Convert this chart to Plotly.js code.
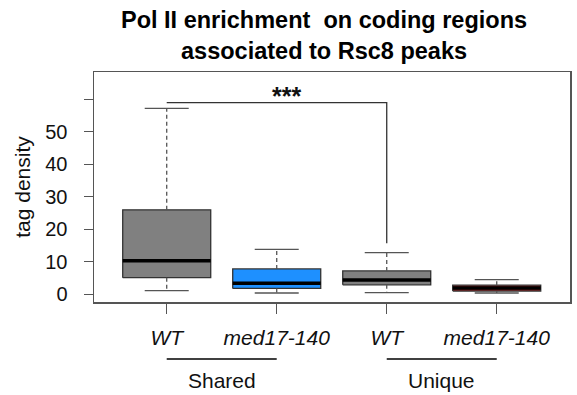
<!DOCTYPE html>
<html>
<head>
<meta charset="utf-8">
<script src="https://cdn.plot.ly/plotly-3.0.1.min.js"></script>
<style>html,body{margin:0;padding:0;background:#fff;}#chart{width:577px;height:395px;}</style>
</head>
<body>
<div id="chart"></div>
<script>
// ---- data ----
const positions = [1, 2, 3, 4];
const strains = ['WT', 'med17-140', 'WT', 'med17-140'];
const groupNames = ['Shared', 'Unique'];
const groupSpans = [[1, 2], [3, 4]];
const upperWhisker = [57.2, 13.8, 12.8, 4.5];
const q3 = [26.0, 7.8, 7.2, 2.8];
const medians = [10.3, 3.4, 4.4, 1.9];
const q1 = [5.1, 1.8, 2.9, 1.0];
const lowerWhisker = [1.1, 0.4, 0.5, 0.4];
const boxColors = ['#808080', '#1E90FF', '#808080', '#8B1A1A'];
const yTickVals = [0, 10, 20, 30, 40, 50, 60];
const yTickText = ['0', '10', '20', '30', '40', '50', ''];
const sigPair = [1, 3];
const sigLevel = 59;
const sigDropTo = 15.7;
const sigLabel = '***';
const titleLines = ['Pol II enrichment\u00A0 on coding regions', 'associated to Rsc8 peaks'];

// ---- style ----
const BOX_W = 0.8, CAP_W = 0.4;
const FONT = 'Liberation Sans, Arial, Helvetica, sans-serif';

const traces = [];
positions.forEach((p, i) => {
  const a = p - BOX_W / 2, b = p + BOX_W / 2;
  traces.push({
    type: 'scatter', mode: 'lines', x: [a, b, b, a, a], y: [q1[i], q1[i], q3[i], q3[i], q1[i]],
    fill: 'toself', fillcolor: boxColors[i], line: {color: '#333', width: 1.3},
    hoverinfo: 'skip', showlegend: false
  });
});
// whiskers (dashed)
const wx = [], wy = [];
positions.forEach((p, i) => {
  wx.push(p, p, null, p, p, null);
  wy.push(q3[i], upperWhisker[i], null, q1[i], lowerWhisker[i], null);
});
traces.push({type: 'scatter', mode: 'lines', x: wx, y: wy, line: {color: '#555', width: 1.3, dash: '4px,3px'}, hoverinfo: 'skip', showlegend: false});
// caps
const cx = [], cy = [];
positions.forEach((p, i) => {
  cx.push(p - CAP_W / 2, p + CAP_W / 2, null, p - CAP_W / 2, p + CAP_W / 2, null);
  cy.push(upperWhisker[i], upperWhisker[i], null, lowerWhisker[i], lowerWhisker[i], null);
});
traces.push({type: 'scatter', mode: 'lines', x: cx, y: cy, line: {color: '#555', width: 1.3}, hoverinfo: 'skip', showlegend: false});
// medians
const mx = [], my = [];
positions.forEach((p, i) => {
  mx.push(p - BOX_W / 2, p + BOX_W / 2, null);
  my.push(medians[i], medians[i], null);
});
traces.push({type: 'scatter', mode: 'lines', x: mx, y: my, line: {color: '#000', width: 3.5}, hoverinfo: 'skip', showlegend: false});
// significance bracket
traces.push({type: 'scatter', mode: 'lines', x: [sigPair[0], sigPair[1], sigPair[1]], y: [sigLevel, sigLevel, sigDropTo],
  line: {color: '#333', width: 1.3}, hoverinfo: 'skip', showlegend: false});

const shapes = groupSpans.map(s => ({
  type: 'line', xref: 'x', yref: 'paper', x0: s[0], x1: s[1], y0: -0.248, y1: -0.248,
  line: {color: '#000', width: 1.5}
}));
const annotations = groupNames.map((g, k) => ({
  xref: 'x', yref: 'paper', x: (groupSpans[k][0] + groupSpans[k][1]) / 2, y: -0.343,
  text: g, showarrow: false, font: {family: FONT, size: 21, color: '#111'}, xanchor: 'center', yanchor: 'middle'
}));
annotations.push({
  xref: 'x', yref: 'y', x: 2.09, y: sigLevel - 3, text: '<b>' + sigLabel + '</b>', showarrow: false,
  font: {family: FONT, size: 25, color: '#111'}, xanchor: 'center', yanchor: 'bottom'
});
annotations.push({
  xref: 'paper', yref: 'paper', x: 0.483, y: 1.29, xanchor: 'center', yanchor: 'top',
  text: '<b>' + titleLines.join('<br>') + '</b>', showarrow: false,
  font: {family: FONT, size: 23.5, color: '#000'}
});

const layout = {
  width: 577, height: 395,
  margin: {l: 94, r: 7, t: 72, b: 93},
  paper_bgcolor: '#fff', plot_bgcolor: '#fff',
  showlegend: false,
  xaxis: {
    range: [0.339, 4.666], tickvals: positions, ticktext: strains.map(s => '<i>' + s + '</i>'),
    ticks: 'outside', ticklen: 10, tickwidth: 1.3, tickcolor: '#555',
    showline: true, mirror: true, linecolor: '#555', linewidth: 1.5,
    showgrid: false, zeroline: false, fixedrange: true,
    tickfont: {family: FONT, size: 21, color: '#111'}, ticklabelstandoff: 6
  },
  yaxis: {
    range: [-2.37, 68.4], tickvals: yTickVals, ticktext: yTickText,
    ticks: 'outside', ticklen: 9, tickwidth: 1.3, tickcolor: '#555',
    showline: true, mirror: true, linecolor: '#555', linewidth: 1.5,
    showgrid: false, zeroline: false, fixedrange: true,
    tickfont: {family: FONT, size: 20, color: '#111'}, ticklabelstandoff: 12,
    title: {text: 'tag density', font: {family: FONT, size: 21, color: '#111'}, standoff: 9}
  },
  shapes: shapes,
  annotations: annotations
};

Plotly.newPlot('chart', traces, layout, {staticPlot: true, displayModeBar: false});
</script>
</body>
</html>
